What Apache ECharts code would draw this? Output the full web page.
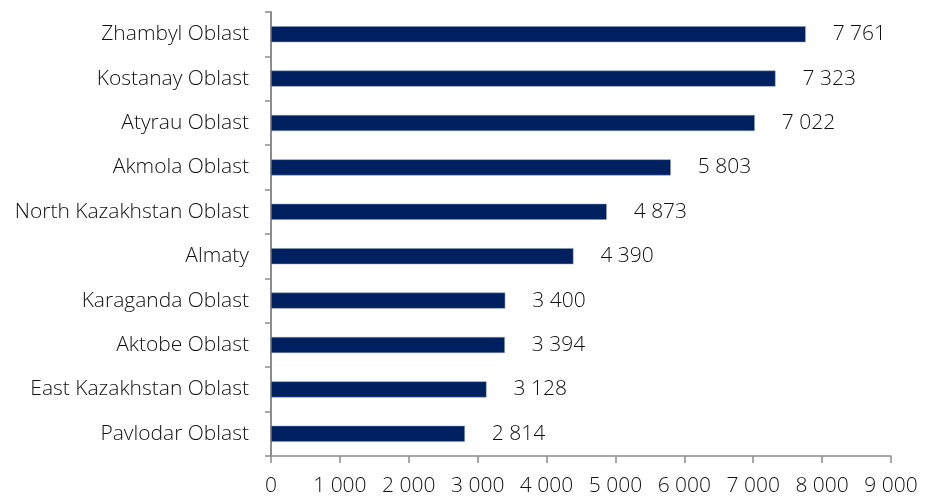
<!DOCTYPE html>
<html>
<head>
<meta charset="utf-8">
<script src="https://cdn.jsdelivr.net/npm/echarts@6/dist/echarts.min.js"></script>
<style>
  html, body { margin: 0; padding: 0; background: #fff; }
  #chart { width: 927px; height: 496px; }
</style>
</head>
<body>
<div id="chart"></div>
<script>
// Regions, listed bottom to top as drawn on the category axis
const regions = [
  'Pavlodar Oblast',
  'East Kazakhstan Oblast',
  'Aktobe Oblast',
  'Karaganda Oblast',
  'Almaty',
  'North Kazakhstan Oblast',
  'Akmola Oblast',
  'Atyrau Oblast',
  'Kostanay Oblast',
  'Zhambyl Oblast'
];
const values = [2814, 3128, 3394, 3400, 4390, 4873, 5803, 7022, 7323, 7761];

// Thousands separated by a space, e.g. 7 761
function fmt(v) {
  return String(v).replace(/\B(?=(\d{3})+(?!\d))/g, ' ');
}

const FONT = '"Open Sans", "Noto Sans", sans-serif';
const TEXT = { color: '#111', fontFamily: FONT, fontSize: 21, fontWeight: 300 };

const chart = echarts.init(document.getElementById('chart'));
chart.setOption({
  animation: false,
  grid: {
    left: 271, right: 36, top: 12, bottom: 40,
    containLabel: false,
    outerBoundsMode: 'none'
  },
  xAxis: {
    type: 'value',
    min: 0,
    max: 9000,
    interval: 1000,
    axisLine: { show: true, lineStyle: { color: '#8c8c8c', width: 1.5 } },
    axisTick: { show: true, length: 7, lineStyle: { color: '#8c8c8c', width: 1.5 } },
    splitLine: { show: false },
    axisLabel: Object.assign({ formatter: fmt, margin: 20 }, TEXT)
  },
  yAxis: {
    type: 'category',
    data: regions,
    axisLine: { show: true, lineStyle: { color: '#8c8c8c', width: 2 } },
    axisTick: { show: true, length: 6, lineStyle: { color: '#8c8c8c', width: 1.5 } },
    axisLabel: Object.assign({ margin: 22 }, TEXT)
  },
  series: [{
    type: 'bar',
    data: values,
    barWidth: 16,
    itemStyle: { color: '#002060', borderColor: '#8497b0', borderWidth: 0.5 },
    label: Object.assign({
      show: true,
      position: 'right',
      distance: 27,
      formatter: p => fmt(p.value)
    }, TEXT)
  }]
});
</script>
</body>
</html>
